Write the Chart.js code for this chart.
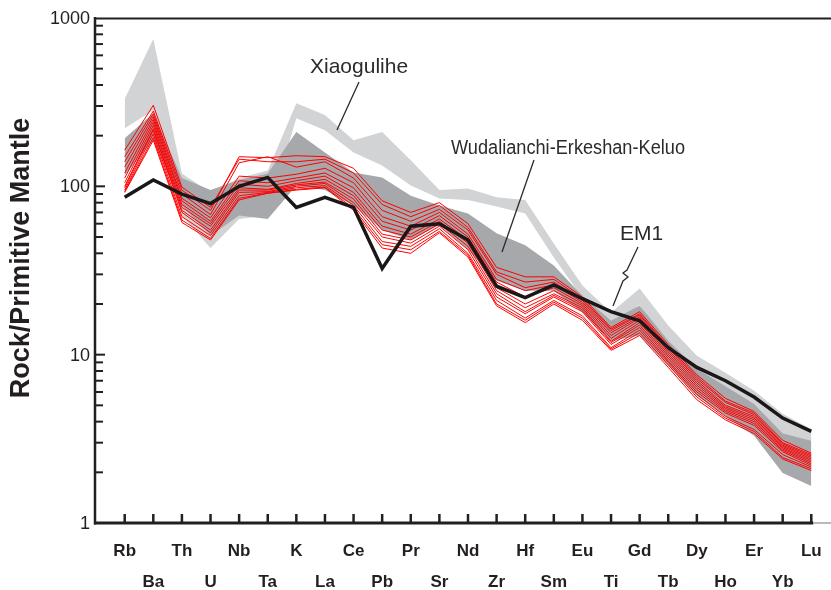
<!DOCTYPE html>
<html><head><meta charset="utf-8">
<script src="https://cdn.jsdelivr.net/npm/chart.js@4.4.0/dist/chart.umd.min.js"></script>
<style>html,body{margin:0;padding:0;background:#fff;}#wrap{width:831px;height:590px;position:relative;}</style>
</head><body><div id="wrap"><canvas id="c" width="831" height="590"></canvas></div>
<script>
const categories = ['Rb','Ba','Th','U','Nb','Ta','K','La','Ce','Pb','Pr','Sr','Nd','Zr','Hf','Sm','Eu','Ti','Gd','Tb','Dy','Ho','Er','Yb','Lu'];
const yTickValues = [1, 10, 100, 1000];
const yTickLabels = ['1', '10', '100', '1000'];
const yAxisTitle = 'Rock/Primitive Mantle';

const em1 = [86,109,90,79,100,113,75,86,75,32.5,58,60,48,25.5,21.8,26,21.5,18,15.9,11,8.4,7.0,5.6,4.2,3.5];

const xiaogulihUpper = [330,750,119,92,112,124,312,265,188,210,143,95,97,86,83,45.8,25.8,17.8,24.7,14.9,9.86,7.8,6.1,4.45,3.6];
const xiaogulihLower = [221,283,67,43,64,67,254,215,159,133,101,84.6,83,76,69,37.8,21.8,15.1,19.8,11.3,7.5,5.9,4.5,3.16,2.87];

const wudalianchiUpper = [193,272,112,95,109,119,210,159,121,113,88,77,69,52.6,44.6,33.9,22.4,15.9,19.6,12.1,8.26,6.5,5.1,3.4,3.08];
const wudalianchiLower = [116,188,77,51,67,64,101,95,77,55,48,59,42,27.6,24,24,17.8,12.1,13,8.6,5.7,4.3,3.3,1.98,1.66];

const sample01 = [150,280,95,72,150,148,152,150,128,82,70,80,60,33,29,29,22,14.5,18,11.5,7.6,5.5,4.6,3.1,2.6];
const sample02 = [164,303,99,75,145,140,140,145,120,78,66,77,57,31,27,28,21.5,14.2,17.5,11.2,7.4,5.3,4.5,3.0,2.55];
const sample03 = [140,270,90,68,138,150,130,140,112,72,62,73,55,30,25,27,21,13.9,17.2,11,7.2,5.2,4.4,2.95,2.5];
const sample04 = [130,260,85,65,115,112,118,128,105,66,58,70,52,28,24,26,20.5,13.5,16.8,10.7,7.0,5.0,4.3,2.9,2.45];
const sample05 = [120,250,82,62,108,105,112,120,98,62,55,67,50,27,22,25,20,13,16.5,10.4,6.8,4.9,4.2,2.85,2.4];
const sample06 = [112,240,78,60,103,100,108,115,92,58,52,64,48,25,20,24,19.5,12.5,16,10.1,6.6,4.8,4.1,2.8,2.35];
const sample07 = [105,230,75,58,98,96,104,110,88,55,50,62,46,24,19,23,19,12,15.5,9.8,6.4,4.7,4.0,2.75,2.3];
const sample08 = [100,220,72,55,95,95,102,106,84,52,48,60,44,23,18,22.5,18.5,11.8,15,9.5,6.2,4.6,3.9,2.7,2.25];
const sample09 = [98,215,70,53,92,93,100,104,80,50,46,58,42,22,17.5,22,18,11.5,14.5,9.2,6.0,4.5,3.8,2.65,2.2];
const sample10 = [95,205,66,51,88,92,98,101,77,47,44,56,40,21,16.5,21,17,11,14,9.0,5.8,4.3,3.6,2.55,2.15];
const sample11 = [93,195,63,49,85,91,96,99,74,45,42,54,39,20,16,20.5,16.5,10.8,13.5,8.7,5.6,4.2,3.5,2.45,2.1];
const sample12 = [92,188,61,48,83,91,95,98,72,43,40,53,38,19.5,15.5,20,16,10.6,13,8.4,5.4,4.1,3.4,2.4,2.05];
const samples = [sample01,sample02,sample03,sample04,sample05,sample06,sample07,sample08,sample09,sample10,sample11,sample12];

const fieldLabels = ['Xiaogulihe', 'Wudalianchi-Erkeshan-Keluo', 'EM1'];

const pts = arr => arr.map((v, i) => ({x: i, y: v}));
const INK = '#231f20';
const FONT = '"Liberation Sans", Arial, sans-serif';

const datasets = [];
datasets.push({label:'Xiaogulihe lower', data: pts(xiaogulihLower), borderWidth:0, borderColor:'rgba(0,0,0,0)', fill:false, order:4});
datasets.push({label:'Xiaogulihe', data: pts(xiaogulihUpper), borderWidth:0, borderColor:'rgba(0,0,0,0)', backgroundColor:'#d1d3d5', fill:'-1', order:4});
datasets.push({label:'Wudalianchi lower', data: pts(wudalianchiLower), borderWidth:0, borderColor:'rgba(0,0,0,0)', fill:false, order:3});
datasets.push({label:'Wudalianchi-Erkeshan-Keluo', data: pts(wudalianchiUpper), borderWidth:0, borderColor:'rgba(0,0,0,0)', backgroundColor:'#a6a8ab', fill:'-1', order:3});
samples.forEach((s, k) => datasets.push({label:'sample ' + (k+1), data: pts(s), borderColor:'#ff0000', borderWidth:1, fill:false, order:2}));
datasets.push({label:'EM1', data: pts(em1), borderColor:'#1b1718', borderWidth:3.5, fill:false, order:1});

const decor = {
  id: 'decor',
  afterDraw(chart) {
    const c = chart.ctx, xs = chart.scales.x, ys = chart.scales.y, a = chart.chartArea;
    c.save();
    c.strokeStyle = INK; c.fillStyle = INK; c.lineCap = 'butt';
    c.lineWidth = 2; c.beginPath(); c.moveTo(a.left, a.top + 0.5); c.lineTo(a.right, a.top + 0.5); c.stroke();
    c.lineWidth = 2.5; c.beginPath(); c.moveTo(a.left, a.top - 1); c.lineTo(a.left, a.bottom + 1.5); c.stroke();
    const xEnd = xs.getPixelForValue(categories.length - 1) + 2;
    c.lineWidth = 3; c.beginPath(); c.moveTo(a.left - 1, a.bottom); c.lineTo(xEnd, a.bottom); c.stroke();
    c.strokeStyle = '#8a8a8a'; c.lineWidth = 1.2; c.beginPath(); c.moveTo(xEnd, a.bottom); c.lineTo(a.right, a.bottom); c.stroke();
    c.strokeStyle = INK;
    c.lineWidth = 2.5;
    categories.forEach((cat, i) => {
      const x = xs.getPixelForValue(i);
      c.beginPath(); c.moveTo(x, a.bottom); c.lineTo(x, a.bottom - 9); c.stroke();
    });
    c.lineWidth = 2;
    for (let d = 1; d < 1000; d *= 10) {
      for (let m = 1; m <= 9; m++) {
        const y = ys.getPixelForValue(d * m);
        c.beginPath(); c.moveTo(a.left, y); c.lineTo(a.left + (m === 1 ? 10 : 8), y); c.stroke();
      }
    }
    c.font = '18px ' + FONT; c.textAlign = 'right'; c.textBaseline = 'middle';
    yTickValues.forEach((v, i) => c.fillText(yTickLabels[i], a.left - 5, ys.getPixelForValue(v) + 1));
    c.font = 'bold 17px ' + FONT; c.textAlign = 'center'; c.textBaseline = 'alphabetic';
    categories.forEach((cat, i) => {
      c.fillText(cat, xs.getPixelForValue(i), i % 2 === 0 ? 556 : 587);
    });
    c.save(); c.translate(22, 258); c.rotate(-Math.PI / 2);
    c.font = 'bold 27px ' + FONT; c.textAlign = 'center'; c.textBaseline = 'middle';
    c.fillText(yAxisTitle, 0, 0); c.restore();
    c.fillStyle = '#2b2b2b'; c.font = '21px ' + FONT; c.textAlign = 'left'; c.textBaseline = 'alphabetic';
    c.fillText(fieldLabels[0], 310, 73);
    c.font = '20px ' + FONT;
    c.fillText(fieldLabels[1], 451, 154, 234);
    c.font = '21px ' + FONT;
    c.fillText(fieldLabels[2], 620, 240);
    c.strokeStyle = '#2b2b2b'; c.lineWidth = 1.3;
    c.beginPath(); c.moveTo(359, 82); c.lineTo(337, 130); c.stroke();
    c.beginPath(); c.moveTo(534, 160); c.lineTo(502, 252); c.stroke();
    c.beginPath(); c.moveTo(638, 247); c.lineTo(627, 270); c.lineTo(623, 273); c.lineTo(628, 277); c.lineTo(623, 281); c.lineTo(613, 306); c.stroke();
    c.restore();
  }
};

new Chart(document.getElementById('c'), {
  type: 'line',
  data: { datasets },
  options: {
    responsive: false, animation: false, devicePixelRatio: 1,
    layout: { padding: { left: 95, top: 18, right: 0, bottom: 67 } },
    plugins: { legend: { display: false }, tooltip: { enabled: false } },
    elements: { point: { radius: 0, hoverRadius: 0 }, line: { tension: 0, borderJoinStyle: 'miter' } },
    scales: {
      x: { type: 'linear', min: -1.038, max: 24.689, display: false },
      y: { type: 'logarithmic', min: 1, max: 1000, display: false }
    }
  },
  plugins: [decor]
});
</script></body></html>
